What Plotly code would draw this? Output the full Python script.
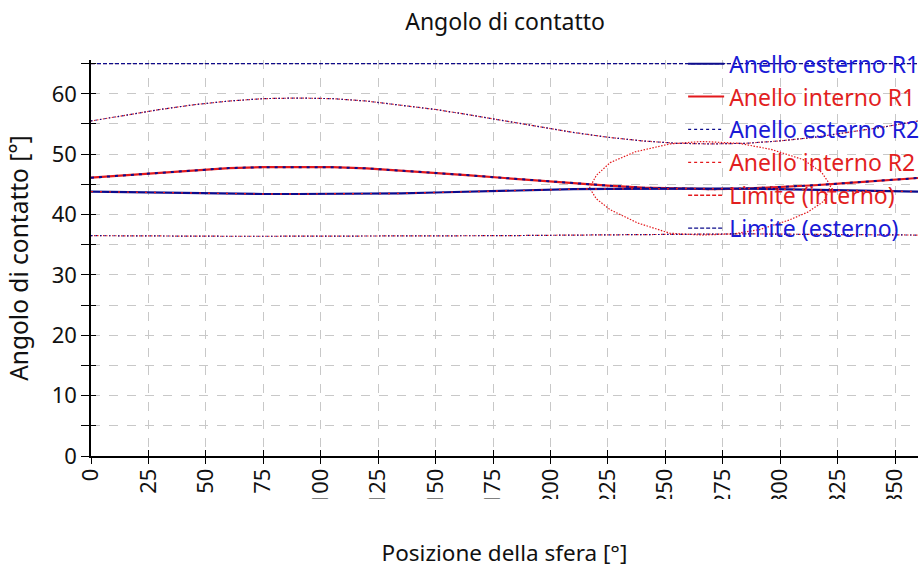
import plotly.graph_objects as go

# Ball position around the bearing [deg]
pos = [0, 15, 30, 45, 60, 75, 90, 105, 120, 135, 150, 165, 180,
       195, 210, 225, 240, 255, 270, 285, 300, 315, 330, 345, 360]

# Row 1 contact angles [deg]
r1_high = [46.1, 46.5, 47.0, 47.4, 47.7, 47.85, 47.9, 47.85, 47.65, 47.3, 46.95, 46.5, 46.05,
           45.6, 45.2, 44.8, 44.45, 44.3, 44.2, 44.3, 44.55, 44.85, 45.25, 45.65, 46.05]
r1_low = [43.8, 43.7, 43.6, 43.5, 43.45, 43.4, 43.4, 43.4, 43.45, 43.5, 43.65, 43.8, 43.95,
          44.1, 44.2, 44.25, 44.3, 44.3, 44.3, 44.3, 44.2, 44.1, 44.0, 43.9, 43.8]

# Row 2 contact angles [deg]
r2_high = [55.5, 56.5, 57.4, 58.2, 58.8, 59.2, 59.3, 59.2, 58.8, 58.1, 57.4, 56.5, 55.5,
           54.5, 53.6, 52.8, 52.2, 51.8, 51.7, 51.8, 52.2, 52.8, 53.6, 54.5, 55.5]
r2_low = [36.5, 36.45, 36.4, 36.4, 36.4, 36.4, 36.4, 36.4, 36.4, 36.45, 36.45, 36.5, 36.5,
          36.55, 36.6, 36.65, 36.7, 36.75, 36.8, 36.8, 36.75, 36.7, 36.65, 36.6, 36.6]

# Inner ring, row 2: closed loop around 270 deg
loop_x = [217, 220, 226, 237, 252, 266, 282, 296, 310, 318, 322, 319, 312, 304,
          291, 280, 266, 252, 238, 226, 220, 217]
loop_y = [44.4, 46.5, 48.6, 50.4, 51.7, 52.1, 51.8, 50.8, 49.1, 47.0, 44.8, 42.2, 40.4, 39.1,
          37.5, 36.8, 36.6, 36.9, 38.6, 40.8, 42.6, 44.4]

# Contact angle limits [deg]
lim_x = [0, 360]
lim_interno = [65, 65]
lim_esterno = [65, 65]

names = ["Anello esterno R1", "Anello interno R1", "Anello esterno R2",
         "Anello interno R2", "Limite (interno)", "Limite (esterno)"]

NAVY = "#0c0c8c"
RED = "#e3191c"
BLUE_TXT = "#1a1ad6"
RED_TXT = "#e21f1f"
DASH = "4px,2px"


def join(*segs):
    xs, ys = [], []
    for sx, sy in segs:
        if xs:
            xs.append(None)
            ys.append(None)
        xs.extend(sx)
        ys.extend(sy)
    return xs, ys


fig = go.Figure()

# Limits
fig.add_trace(go.Scatter(x=lim_x, y=lim_interno, mode="lines", showlegend=False,
                         line=dict(color=RED, width=0.8, dash=DASH)))
fig.add_trace(go.Scatter(x=lim_x, y=lim_esterno, mode="lines", showlegend=False,
                         line=dict(color=NAVY, width=1.4, dash=DASH)))

# Row 2 (dotted)
x2, y2 = join((pos, r2_high), (pos, r2_low), (loop_x, loop_y))
fig.add_trace(go.Scatter(x=x2, y=y2, mode="lines", showlegend=False,
                         line=dict(color=RED, width=1.2, dash="1.5px,1.5px")))
x2e, y2e = join((pos, r2_high), (pos, r2_low))
fig.add_trace(go.Scatter(x=x2e, y=y2e, mode="lines", showlegend=False,
                         line=dict(color=NAVY, width=1.2, dash="1.5px,3px")))

# Row 1 (solid, outer and inner ring curves coincide)
fig.add_trace(go.Scatter(x=pos, y=r1_high, mode="lines", showlegend=False,
                         line=dict(color=RED, width=2.2)))
fig.add_trace(go.Scatter(x=pos, y=r1_high, mode="lines", showlegend=False,
                         line=dict(color=NAVY, width=2.0, dash="3px,5px")))
fig.add_trace(go.Scatter(x=pos, y=r1_low, mode="lines", showlegend=False,
                         line=dict(color=NAVY, width=2.2)))
fig.add_trace(go.Scatter(x=pos, y=r1_low, mode="lines", showlegend=False,
                         line=dict(color=RED, width=1.4, dash="2px,7px")))

# Legend entries
styles = [(NAVY, "solid", BLUE_TXT), (RED, "solid", RED_TXT), (NAVY, "dot", BLUE_TXT),
          (RED, "dot", RED_TXT), (RED, DASH, RED_TXT), (NAVY, DASH, BLUE_TXT)]
for nm, (lc, ld, tc) in zip(names, styles):
    fig.add_trace(go.Scatter(
        x=[None], y=[None], mode="lines",
        name=f"<span style='color:{tc}'>{nm}</span>",
        line=dict(color=lc, width=2 if ld == "solid" else 1.3, dash=ld)))

# Inside half of the crossing ticks
fig.add_trace(go.Scatter(x=[None], y=[None], xaxis="x2", yaxis="y2", showlegend=False))

font = "Noto Sans, Open Sans, sans-serif"
grid = dict(showgrid=True, gridcolor="#c8c8c8", griddash="dash", gridwidth=1)

fig.update_layout(
    width=920, height=574,
    margin=dict(l=91, r=2, t=60, b=118, autoexpand=False),
    paper_bgcolor="white", plot_bgcolor="white",
    font=dict(family=font, size=20, color="#111111"),
    title=dict(text="Angolo di contatto", x=0.549, xanchor="center", y=0.962,
               yanchor="middle", font=dict(size=23, color="#111111")),
    showlegend=True,
    legend=dict(x=0.716, y=1.045, xanchor="left", yanchor="top",
                bgcolor="rgba(0,0,0,0)", font=dict(size=23),
                traceorder="normal", itemwidth=36),
    xaxis=dict(range=[0, 360], tick0=0, dtick=25, tickangle=-90,
               tickfont=dict(size=22), ticklabelstandoff=-4,
               ticks="outside", ticklen=6, tickcolor="black", tickwidth=1.3,
               showline=True, linecolor="black", linewidth=1.5, zeroline=False,
               title=dict(text="Posizione della sfera [°]", standoff=40,
                          font=dict(size=22.5)),
               **grid),
    yaxis=dict(range=[0, 65.6], tick0=0, dtick=10,
               tickfont=dict(size=22),
               ticks="outside", ticklen=8, tickcolor="black", tickwidth=1.3,
               showline=True, linecolor="black", linewidth=1.5, zeroline=False,
               minor=dict(dtick=5, ticks="outside", ticklen=8, tickcolor="black",
                          showgrid=True, gridcolor="#c8c8c8", griddash="dash"),
               title=dict(text="Angolo di contatto [°]", standoff=16,
                          font=dict(size=24.5)),
               **grid),
    xaxis2=dict(overlaying="x", matches="x", tick0=0, dtick=25, ticks="inside",
                ticklen=6, tickcolor="black", tickwidth=1.3, showticklabels=False,
                showgrid=False, showline=False, zeroline=False, anchor="y2", side="bottom"),
    yaxis2=dict(overlaying="y", matches="y", tick0=0, dtick=10, ticks="inside",
                ticklen=5, tickcolor="black", tickwidth=1.3, showticklabels=False,
                minor=dict(dtick=5, ticks="inside", ticklen=5, tickcolor="black"),
                showgrid=False, showline=False, zeroline=False, anchor="x2", side="left"),
    # tick-label area is clipped a little below the axis
    shapes=[dict(type="rect", xref="paper", yref="paper", layer="above",
                 x0=-0.01, x1=1.01, y0=-0.1086, y1=-0.145,
                 fillcolor="white", line=dict(width=0))],
)

fig.write_html("out.html")
